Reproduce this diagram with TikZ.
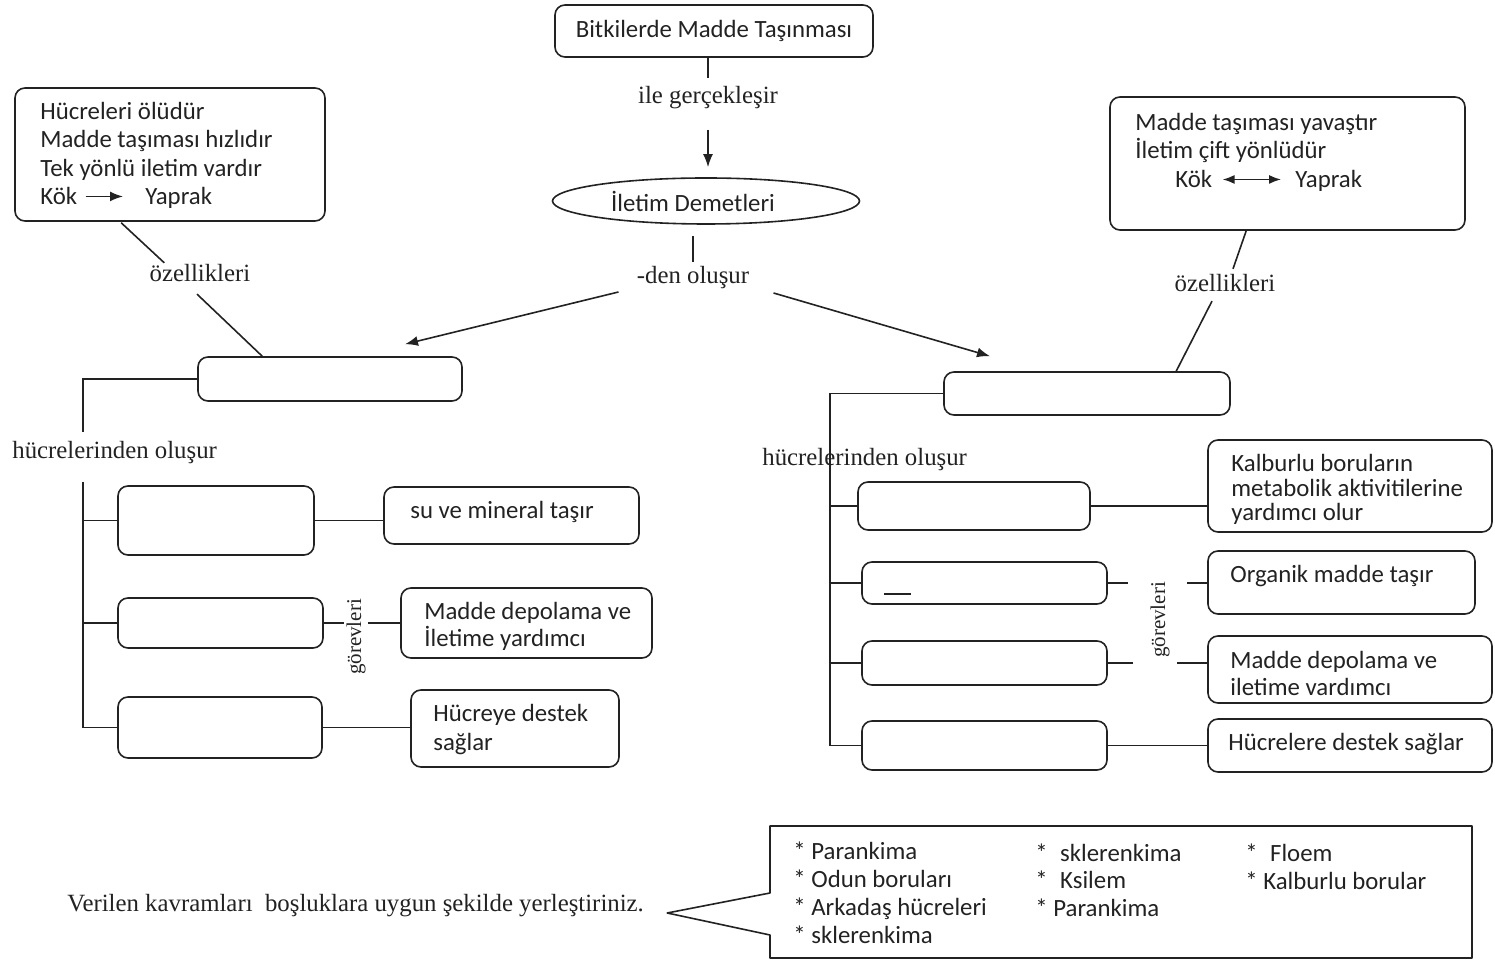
\documentclass[tikz,border=0pt]{standalone}
\usepackage{fontspec}
\setmainfont{Liberation Serif}
\newfontfamily\boxfont{Carlito}
\usetikzlibrary{arrows.meta,shapes.geometric,calc}
\definecolor{ink}{HTML}{222222}
\begin{document}
\begin{tikzpicture}[x=0.5pt,y=-0.5pt,
  cellbox/.style 2 args={draw=ink, line width=0.8pt, rounded corners=5pt,
    minimum width=#1*0.5pt, minimum height=#2*0.5pt, inner sep=0pt},
  sanstext/.style={font=\boxfont\fontsize{12.4}{15}\selectfont, inner sep=0pt,
    anchor=base west, text=ink, yshift=-1pt},
  seriflabel/.style={font=\fontsize{12.4}{15}\selectfont, text=ink},
  vlabel/.style={font=\fontsize{10.5}{12}\selectfont, text=ink, rotate=90, inner sep=1pt},
  wire/.style={draw=ink, line width=0.8pt},
  arr/.style={wire, -{Latex[length=6.5pt,width=5pt]}},
]
\useasboundingbox (0,0) rectangle (1495,961);

% --- title and central concept ---
\node[cellbox={318}{52}, font=\boxfont\fontsize{12.4}{15}\selectfont, text=ink] (top) at (714,31) {Bitkilerde Madde Taşınması};
\node[seriflabel, inner sep=4pt] (ile) at (708,98) {ile gerçekleşir};
\node[draw=ink, line width=0.8pt, ellipse, minimum width=307*0.5pt, minimum height=46*0.5pt, inner sep=0pt] (dem) at (706,201) {};
\node[font=\boxfont\fontsize{12.4}{15}\selectfont, text=ink, inner sep=0pt] (demT) at (693,201) {İletim Demetleri};
\node[seriflabel, inner sep=2pt] (den) at (693,278) {-den oluşur};

\draw[wire] (top.south -| ile.north) -- (ile.north);
\draw[arr, shorten <=6pt, shorten >=5pt] (ile.south) -- (ile.south |- dem.north);
\draw[wire, shorten <=5.5pt] (dem.south -| den.north) -- (den.north);

% --- properties boxes ---
\node[cellbox={310}{133}] (LT) at (170,154.5) {};
\node[sanstext] (lt1) at (40,118) {Hücreleri ölüdür};
\node[sanstext] (lt2) at (40,146) {Madde taşıması hızlıdır};
\node[sanstext] (lt3) at (40,175) {Tek yönlü iletim vardır};
\node[sanstext] (kokL) at (40,203) {Kök};
\node[sanstext] (yapL) at (145,203) {Yaprak};
\draw[arr, shorten <=4pt, shorten >=11pt] (kokL.east) -- (kokL.east -| yapL.west);

\node[cellbox={355}{133}] (RT) at (1287.5,163.5) {};
\node[sanstext] (rt1) at (1135,129) {Madde taşıması yavaştır};
\node[sanstext] (rt2) at (1135,157) {İletim çift yönlüdür};
\node[sanstext] (kokR) at (1175,186) {Kök};
\node[sanstext] (yapR) at (1295,186) {Yaprak};
\draw[wire, {Latex[length=6pt,width=4.5pt]}-{Latex[length=6pt,width=4.5pt]}, shorten <=5pt, shorten >=7pt]
  (kokR.east) -- (kokR.east -| yapR.west);

% --- tissue boxes ---
\node[cellbox={264}{44}] (L0) at (330,379) {};
\node[cellbox={286}{43}] (R0) at (1087,393.5) {};

\node[seriflabel, inner sep=0pt] (ozL) at (200,273) {özellikleri};
\node[seriflabel, inner sep=0pt] (ozR) at (1225,283) {özellikleri};

\draw[wire] ($(LT.south west)+(107,1)$) -- ($(ozL.north west)+(15,-1)$);
\draw[wire] ($(ozL.south)+(-3,12)$) -- ($(L0.north west)+(65,0)$);
\draw[wire] ($(RT.south west)+(137,0)$) -- ($(ozR.north)+(8,-5)$);
\draw[wire] ($(ozR.south)+(-13,9)$) -- ($(R0.north west)+(233,0)$);

\draw[arr] ($(den.west)+(-14,14)$) -- ($(L0.north)+(75,-12)$);
\draw[arr] ($(den.east)+(20,15)$) -- ($(R0.north)+(-97,-15)$);

% --- left branch: cells ---
\node[seriflabel, anchor=west, inner sep=0pt] (hucL) at (12,453) {hücrelerinden oluşur};
\coordinate (jL) at (83,432);
\coordinate (sL) at (83,482);
\draw[wire] (L0.west) -| (jL);

\node[cellbox={196}{69}] (L1) at (216,520.5) {};
\node[cellbox={205}{50}] (L2) at (220.5,623) {};
\node[cellbox={204}{61}] (L3) at (220,727.5) {};
\draw[wire] (sL) |- (L3.west);
\draw[wire] (sL |- L1.west) -- (L1.west);
\draw[wire] (sL |- L2.west) -- (L2.west);

\node[cellbox={255}{57}] (R1) at (511.5,515.5) {};
\node[sanstext] (r1t) at (410,517) {su ve mineral taşır};
\node[cellbox={251}{70}] (R2) at (526.5,623) {};
\node[sanstext] (r2a) at (424,618) {Madde depolama ve};
\node[sanstext] (r2b) at (424,645) {İletime yardımcı};
\node[cellbox={208}{77}] (R3) at (515,728.5) {};
\node[sanstext] (r3a) at (433,720) {Hücreye destek};
\node[sanstext] (r3b) at (433,749) {sağlar};

\node[vlabel] (gorL) at (356,637) {görevleri};
\draw[wire] (L1.east) -- (L1.east -| R1.west);
\draw[wire] (L2.east) -- (L2.east -| gorL.north);
\draw[wire] (gorL.south |- L2.east) -- (L2.east -| R2.west);
\draw[wire] (L3.east) -- (L3.east -| R3.west);

% --- right branch: cells ---
\coordinate (sR) at (830,445);
\draw[wire] (R0.west) -| (sR);
\node[seriflabel, anchor=west, inner sep=0pt] (hucR) at (762,460) {hücrelerinden oluşur};

\node[cellbox={232}{48}] (RL1) at (974,506) {};
\node[cellbox={245}{42}] (RL2) at (984.5,583) {};
\node[cellbox={245}{44}] (RL3) at (984.5,663) {};
\node[cellbox={245}{49}] (RL4) at (984.5,745.5) {};
\draw[wire] (sR) |- (RL4.west);
\draw[wire] (sR |- RL1.west) -- (RL1.west);
\draw[wire] (sR |- RL2.west) -- (RL2.west);
\draw[wire] (sR |- RL3.west) -- (RL3.west);
\draw[wire] ($(RL2.south west)+(23,-11)$) -- ++(27,0);

\node[cellbox={284}{92}] (RR1) at (1350,486) {};
\node[sanstext] (rr1a) at (1231,470) {Kalburlu boruların};
\node[sanstext] (rr1b) at (1231,495) {metabolik aktivitilerine};
\node[sanstext] (rr1c) at (1231,519) {yardımcı olur};
\node[cellbox={267}{63}] (RR2) at (1341.5,582.5) {};
\node[sanstext] (rr2a) at (1230,581) {Organik madde taşır};
\node[cellbox={284}{67}] (RR3) at (1350,669.5) {};
\node[sanstext] (rr3a) at (1230,667) {Madde depolama ve};
\node[sanstext] (rr3b) at (1230,694) {iletime vardımcı};
\node[cellbox={284}{53}] (RR4) at (1350,745.5) {};
\node[sanstext] (rr4a) at (1228,749) {Hücrelere destek sağlar};

\node[vlabel] (gorR) at (1160,620) {görevleri};
\coordinate (g2a) at (1128,583);
\coordinate (g2b) at (1187,583);
\coordinate (g3a) at (1133,663);
\coordinate (g3b) at (1177,663);
\draw[wire] (RL1.east) -- (RL1.east -| RR1.west);
\draw[wire] (RL2.east) -- (g2a);
\draw[wire] (g2b) -- (g2b -| RR2.west);
\draw[wire] (RL3.east) -- (g3a);
\draw[wire] (g3b) -- (g3b -| RR3.west);
\draw[wire] (RL4.east) -- (RL4.east -| RR4.west);

% --- instruction and word list ---
\node[seriflabel, anchor=west, inner sep=0pt] (prompt) at (67,906) {Verilen kavramları\ \ boşluklara uygun şekilde yerleştiriniz.};
\draw[wire, line join=round] (770,893) -- ($(prompt.east)+(23,7)$) -- (770,935)
  -- (770,958) -- (1472,958) -- (1472,826) -- (770,826) -- cycle;

\node[sanstext] (w1) at (793,858) {* Parankima};
\node[sanstext] (w2) at (793,886) {* Odun boruları};
\node[sanstext] (w3) at (793,914) {* Arkadaş hücreleri};
\node[sanstext] (w4) at (793,942) {* sklerenkima};
\node[sanstext] (w5) at (1035,860) {*\enspace sklerenkima};
\node[sanstext] (w6) at (1035,887) {*\enspace Ksilem};
\node[sanstext] (w7) at (1035,915) {* Parankima};
\node[sanstext] (w8) at (1245,860) {*\enspace Floem};
\node[sanstext] (w9) at (1245,888) {* Kalburlu borular};
\end{tikzpicture}
\end{document}
